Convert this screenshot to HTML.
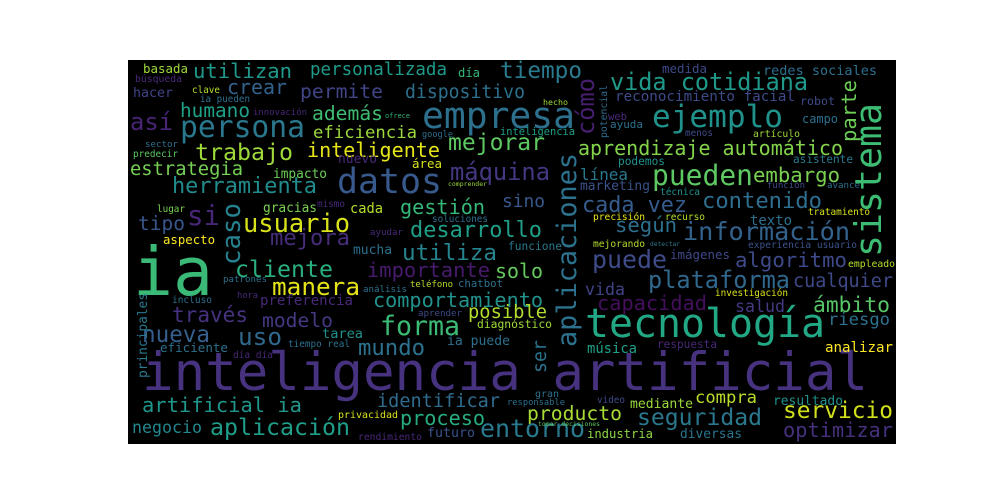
<!DOCTYPE html>
<html><head><meta charset="utf-8"><style>
html,body{margin:0;padding:0;background:#fff;}
svg{display:block;}
text{font-family:"DejaVu Sans Mono","Liberation Mono",monospace;}
</style></head><body>
<svg id="cloud" width="1000" height="500" viewBox="0 0 1000 500" xmlns="http://www.w3.org/2000/svg">
<rect x="128" y="60" width="768" height="384" fill="#000"/>
<g id="words"></g>
</svg>
<script>
// [text, x, baselineY, fontSize(0=auto from width), width, color, vertical]
const words = [
["inteligencia artificial",142,390,0,726,"#46327e"],
["ia",133,295,0,80,"#3aba76"],
["tecnología",585,337,0,240,"#22a884"],
["datos",337,193,0,105,"#38598c"],
["empresa",422,128,0,153,"#2d708e"],
["persona",180,137,0,125,"#2a788e"],
["ejemplo",652,127,0,131,"#20928c"],
["pueden",652,185,0,101,"#5ec962"],
["información",683,240,0,167,"#33638d"],
["usuario",243,232,0,107,"#d8e219"],
["inteligente",307,157,0,133,"#e5e419"],
["trabajo",195,160,0,98,"#9fda3a"],
["herramienta",172,193,0,145,"#228c8d"],
["gestión",400,214,0,85,"#35b779"],
["desarrollo",410,237,0,132,"#1f9f88"],
["máquina",450,180,0,100,"#453781"],
["mejorar",448,150,0,97,"#5ec962"],
["estrategia",130,175,0,113,"#75d054"],
["humano",180,117,0,70,"#1fa187"],
["además",312,120,0,71,"#3fbc73"],
["eficiencia",313,138,0,104,"#9bd93c"],
["crear",227,94,0,60,"#33638d"],
["permite",300,98,0,83,"#414487"],
["dispositivo",405,98,0,120,"#2d708e"],
["utilizan",193,78,0,99,"#1f9a8a"],
["personalizada",310,75,0,137,"#1e9b8a"],
["tiempo",500,78,0,82,"#297b8e"],
["vida cotidiana",610,90,0,198,"#1f998a"],
["redes sociales",763,75,0,114,"#2d708e"],
["medida",662,73,0,45,"#3e4a89"],
["así",130,130,0,43,"#482475"],
["tipo",138,230,0,47,"#39568c"],
["si",187,225,0,33,"#482677"],
["mejora",270,245,0,80,"#472c7a"],
["cliente",235,277,0,98,"#2ab07f"],
["manera",272,295,0,88,"#e4e419"],
["importante",367,277,0,123,"#481a6c"],
["utiliza",402,260,0,95,"#25848e"],
["solo",495,278,0,48,"#65cb5e"],
["comportamiento",373,307,0,170,"#21918c"],
["posible",468,318,0,79,"#b2dd2d"],
["forma",380,335,0,80,"#3cbb75"],
["mundo",358,355,0,67,"#2c728e"],
["uso",238,345,0,44,"#31688e"],
["modelo",262,327,0,71,"#443983"],
["través",172,322,0,76,"#46327e"],
["nueva",142,342,0,68,"#355f8d"],
["artificial ia",142,412,0,160,"#1f968b"],
["identificar",377,407,0,123,"#2f6c8e"],
["proceso",400,425,0,85,"#27ad81"],
["aplicación",210,435,0,140,"#1f9e89"],
["negocio",132,433,0,70,"#23898e"],
["futuro",427,437,0,48,"#3b528b"],
["puede",592,268,0,75,"#3e4c8a"],
["plataforma",648,288,0,142,"#31688e"],
["algoritmo",735,267,0,112,"#3e4a89"],
["capacidad",597,310,0,110,"#440f5c"],
["salud",735,312,0,50,"#443a83"],
["ámbito",813,312,0,77,"#56c667"],
["riesgo",828,325,0,62,"#2c718e"],
["cualquier",793,287,0,100,"#3e4989"],
["analizar",825,352,0,68,"#fde725"],
["música",587,353,0,50,"#1fa088"],
["cada vez",582,212,0,105,"#365c8d"],
["contenido",702,208,0,120,"#2e6e8e"],
["embargo",753,182,0,87,"#7ad151"],
["aprendizaje automático",578,155,0,265,"#84d44b"],
["según",615,232,0,62,"#2d708e"],
["sino",502,207,0,43,"#38588c"],
["servicio",783,418,0,110,"#d0e11c"],
["optimizar",783,437,0,110,"#46307e"],
["seguridad",637,425,0,125,"#2a788e"],
["producto",527,420,0,95,"#a8db34"],
["compra",695,403,0,62,"#bade28"],
["mediante",630,408,0,63,"#9dd93b"],
["resultado",773,405,0,70,"#21918c"],
["entorno",480,437,0,105,"#297a8e"],
["industria",587,438,0,66,"#8ed645"],
["diversas",680,438,0,62,"#2b758e"],
["vida",585,295,0,40,"#414487"],
["imágenes",670,259,0,60,"#3f4889"],
["reconocimiento facial",615,101,0,180,"#3e4a89"],
["línea",580,180,0,48,"#2a788e"],
["marketing",580,190,0,70,"#3b528b"],
["texto",750,225,0,42,"#2d708e"],
["robot",800,105,0,35,"#3e4a89"],
["campo",802,123,0,36,"#2d708e"],
["web",608,120,0,19,"#482878"],
["ayuda",610,128,0,33,"#2d708e"],
["podemos",618,165,0,47,"#21918c"],
["asistente",793,163,0,60,"#2a788e"],
["función",767,188,0,38,"#3e4a89"],
["avance",827,188,0,33,"#2d708e"],
["técnica",660,195,0,40,"#21918c"],
["precisión",593,220,0,52,"#e5e419"],
["recurso",665,220,0,40,"#b5de2b"],
["tratamiento",808,215,0,62,"#d8e219"],
["mejorando",593,247,0,52,"#b5de2b"],
["detectar",650,246,0,30,"#2a788e"],
["experiencia usuario",748,248,0,109,"#3b528b"],
["funcione",508,250,0,54,"#2a788e"],
["empleado",848,267,0,47,"#b5de2b"],
["investigación",715,296,0,73,"#d8e219"],
["respuesta",657,348,0,60,"#482878"],
["diagnóstico",477,328,0,75,"#a0da39"],
["gran",535,397,0,24,"#2d708e"],
["responsable",507,405,0,58,"#2d708e"],
["video",597,403,0,28,"#3e4a89"],
["tomar decisiones",538,426,0,62,"#5ec962"],
["hecho",543,105,0,25,"#9fda3a"],
["inteligencia",500,135,0,75,"#1f9e89"],
["menos",685,136,0,28,"#3e4a89"],
["artículo",753,137,0,47,"#9bd93c"],
["basada",143,73,0,45,"#a0da39"],
["día",458,77,0,22,"#35b779"],
["búsqueda",135,82,0,47,"#482878"],
["hacer",133,97,0,40,"#414487"],
["clave",192,93,0,28,"#b5de2b"],
["ia pueden",200,102,0,50,"#2d708e"],
["innovación",253,115,0,54,"#482878"],
["ofrece",385,118,0,25,"#35b779"],
["google",422,137,0,31,"#2d708e"],
["sector",145,147,0,33,"#2d708e"],
["predecir",133,157,0,45,"#5ec962"],
["nuevo",338,163,0,39,"#482878"],
["área",412,168,0,30,"#d8e219"],
["impacto",273,178,0,54,"#6ece58"],
["comprender",448,186,0,39,"#9bd93c"],
["gracias",263,212,0,54,"#7ad151"],
["cada",350,213,0,33,"#b5de2b"],
["lugar",157,212,0,28,"#7ad151"],
["mismo",317,207,0,28,"#482878"],
["soluciones",432,222,0,56,"#2d708e"],
["aspecto",163,244,0,52,"#fde725"],
["ayudar",370,235,0,33,"#482878"],
["mucha",353,254,0,39,"#2d708e"],
["patrones",223,282,0,44,"#2d708e"],
["análisis",363,292,0,44,"#2d708e"],
["teléfono",410,287,0,43,"#b5de2b"],
["chatbot",458,287,0,45,"#2d708e"],
["incluso",172,303,0,40,"#2d708e"],
["hora",237,298,0,21,"#482878"],
["preferencia",260,305,0,93,"#482878"],
["aprender",418,316,0,44,"#3e4a89"],
["tarea",322,338,0,41,"#21918c"],
["ia puede",447,345,0,63,"#2d708e"],
["eficiente",160,352,0,68,"#2d708e"],
["tiempo real",288,347,0,62,"#2d708e"],
["día día",233,358,0,40,"#482878"],
["privacidad",338,418,0,60,"#d8e219"],
["rendimiento",358,440,0,64,"#482878"],
["aplicaciones",576,347,0,194,"#2c728e",1],
["sistema",881,257,0,154,"#3dbc74",1],
["parte",856,142,0,62,"#6ece58",1],
["cómo",594,135,0,57,"#481f70",1],
["potencial",607,138,0,53,"#306a8e",1],
["caso",240,265,0,62,"#26828e",1],
["ser",546,373,0,33,"#2c728e",1],
["principales",147,378,0,85,"#2a778e",1]
];
const g = document.getElementById('words');
const NS = "http://www.w3.org/2000/svg";
for (const w of words) {
  const [t, x, y, s, wd, c, v] = w;
  const n = [...t].length;
  const size = s || wd / (n * 0.6);
  const el = document.createElementNS(NS, 'text');
  
  
  el.setAttribute('x', x);
  el.setAttribute('y', y);
  el.setAttribute('font-size', size.toFixed(1));
  el.setAttribute('fill', c);
  el.setAttribute('textLength', wd);
  el.setAttribute('lengthAdjust', 'spacingAndGlyphs');
  if (v) el.setAttribute('transform', 'rotate(-90 ' + x + ' ' + y + ')');
  el.textContent = t;
  g.appendChild(el);
}
</script>
</body></html>
